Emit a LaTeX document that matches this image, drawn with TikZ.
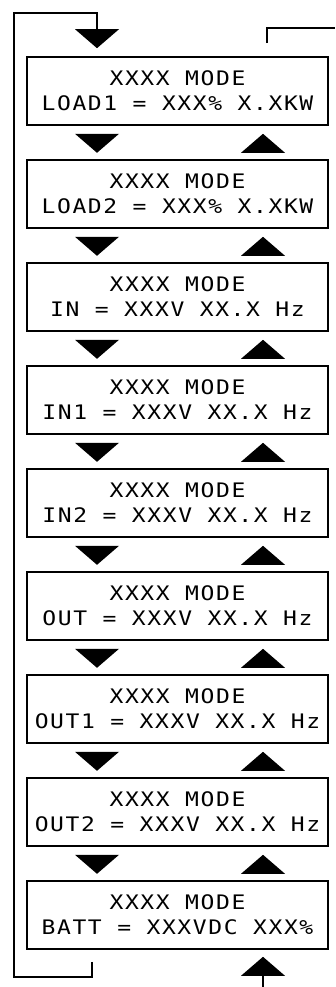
\documentclass[tikz,border=0pt]{standalone}
\usepackage{fontspec}
\usetikzlibrary{calc}
\newfontfamily\lcdfont[FakeStretch=1.15,LetterSpace=8]{DejaVu Sans Mono}
\begin{document}
\begin{tikzpicture}[x=1pt, y=-1pt,
  screen/.style={draw, line width=1.6pt, minimum width=301pt, minimum height=68pt,
    inner sep=0pt, align=center, font=\lcdfont\fontsize{20}{25}\selectfont},
  loopline/.style={line width=2pt}]
  \useasboundingbox (0,0) rectangle (335,987);

  % screens
  \foreach \i/\txt in {1/LOAD1 = XXX\% X.XKW, 2/LOAD2 = XXX\% X.XKW,
      3/IN = XXXV XX.X Hz, 4/IN1 = XXXV XX.X Hz, 5/IN2 = XXXV XX.X Hz,
      6/OUT = XXXV XX.X Hz, 7/OUT1 = XXXV XX.X Hz, 8/OUT2 = XXXV XX.X Hz,
      9/BATT = XXXVDC XXX\%}
    \node[screen] (s\i) at (177.5,{91+(\i-1)*103}) {XXXX MODE\\\txt};

  % arrow triangles between screens
  \foreach \i in {1,...,8} {
    \fill ($(s\i.south)+(-102.5,8)$) -- ++(44,0) -- ++(-22,19) -- cycle;
    \fill ($(s\i.south)+(63.5,27)$) -- ++(44,0) -- ++(-22,-19) -- cycle;
  }

  % entry and exit triangles
  \fill ($(s1.north)+(-102.5,-27)$) -- ++(44,0) -- ++(-22,19) -- cycle;
  \coordinate (intop) at ($(s1.north)+(-80.5,-27)$);
  \fill ($(s9.south)+(63.5,26)$) -- ++(44,0) -- ++(-22,-19) -- cycle;
  \coordinate (inbot) at ($(s9.south)+(85.5,26)$);
  \coordinate (outbot) at ($(s9.south)+(-85.5,12)$);
  \coordinate (outtop) at ($(s1.north)+(89.5,-13)$);

  % loop lines
  \draw[loopline] (outbot) |- (14,977) |- (97,13) -- (intop);
  \draw[loopline] (outtop) |- (335,28);
  \draw[loopline] (inbot) -- (263,987);
\end{tikzpicture}
\end{document}
